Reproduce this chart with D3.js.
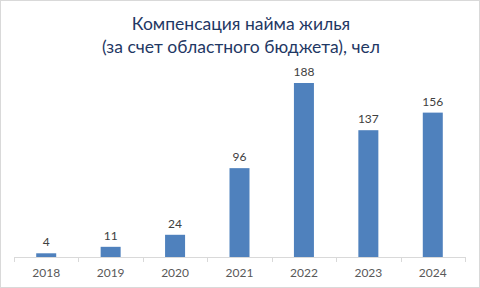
<!DOCTYPE html>
<html>
<head>
<meta charset="utf-8">
<script src="https://cdn.jsdelivr.net/npm/d3@7"></script>
<style>
  html, body { margin: 0; padding: 0; background: #fff; }
  svg { display: block; }
</style>
</head>
<body>
<div id="chart"></div>
<script>
// Chart data
const years = ["2018", "2019", "2020", "2021", "2022", "2023", "2024"];
const people = [4, 11, 24, 96, 188, 137, 156];
const titleLines = ["Компенсация найма жилья", "(за счет областного бюджета), чел"];

const W = 480, H = 288;
const FONT = "Lato, 'Open Sans', sans-serif";
const svg = d3.select("#chart").append("svg").attr("width", W).attr("height", H);

// outer frame
svg.append("rect")
  .attr("x", 0.5).attr("y", 0.5).attr("width", W - 1).attr("height", H - 1)
  .attr("fill", "#fff").attr("stroke", "#d9d9d9");

const baseY = 257;
const x = d3.scaleBand().domain(years).range([14, 465]).paddingInner(0).paddingOuter(0);
const y = d3.scaleLinear().domain([0, 200]).range([baseY, baseY - 174 * 200 / 188]);

const barW = 20;

// title
svg.append("g").selectAll("text").data(titleLines).join("text")
  .attr("x", 241).attr("y", (d, i) => 30 + i * 23)
  .attr("text-anchor", "middle")
  .attr("font-family", FONT)
  .attr("font-size", 17.5)
  .attr("fill", "#1f3864")
  .text(d => d);

// bars
svg.append("g").selectAll("rect").data(people).join("rect")
  .attr("x", (d, i) => x(years[i]) + x.bandwidth() / 2 - barW / 2)
  .attr("y", d => y(d))
  .attr("width", barW)
  .attr("height", d => baseY - y(d))
  .attr("fill", "#4f81bd");

// value labels
svg.append("g").selectAll("text").data(people).join("text")
  .attr("x", (d, i) => x(years[i]) + x.bandwidth() / 2)
  .attr("y", d => y(d) - 7)
  .attr("text-anchor", "middle")
  .attr("font-family", FONT)
  .attr("font-size", 12)
  .attr("fill", "#404040")
  .text(d => d);

// category axis
const axis = d3.axisBottom(x).tickSize(0).tickPadding(11);
const gx = svg.append("g").attr("transform", `translate(0,${baseY})`).call(axis);
gx.select(".domain").attr("stroke", "#d9d9d9");
gx.selectAll(".tick text")
  .attr("font-family", FONT)
  .attr("font-size", 12)
  .attr("fill", "#595959");

// tick marks at category boundaries
const bounds = years.map(d => x(d)).concat([x(years[years.length - 1]) + x.bandwidth()]);
gx.append("g").selectAll("line").data(bounds).join("line")
  .attr("x1", d => Math.round(d) + 0.5).attr("x2", d => Math.round(d) + 0.5)
  .attr("y1", 0).attr("y2", 5)
  .attr("stroke", "#d9d9d9");
</script>
</body>
</html>
